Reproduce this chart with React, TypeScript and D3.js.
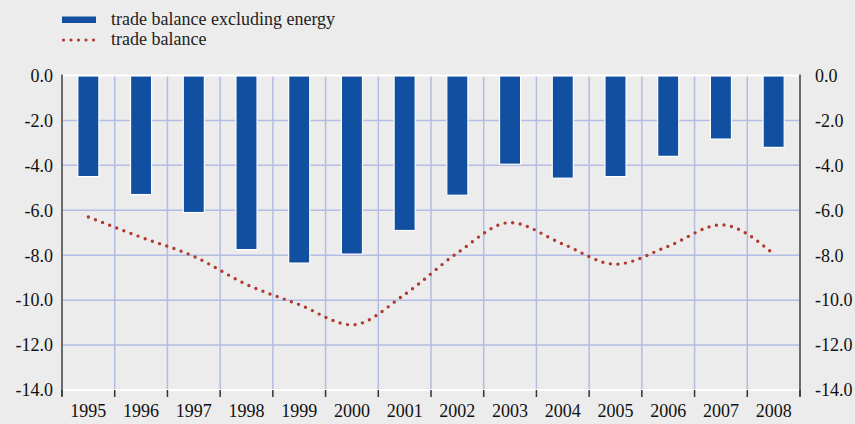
import React from "react";
import * as d3 from "d3";

const years = ["1995","1996","1997","1998","1999","2000","2001","2002","2003","2004","2005","2006","2007","2008"];
const excludingEnergy = [-4.5, -5.3, -6.1, -7.75, -8.35, -7.95, -6.9, -5.33, -3.95, -4.57, -4.5, -3.6, -2.83, -3.2];
const tradeBalance = [-6.3, -7.2, -8.05, -9.3, -10.2, -11.1, -9.75, -7.9, -6.55, -7.5, -8.4, -7.6, -6.65, -7.95];
const yTicks = [0, -2, -4, -6, -8, -10, -12, -14];
const legendLabels = ["trade balance excluding energy", "trade balance"];

const W = 855;
const H = 424;
const left = 62;
const right = 800;
const top = 75.5;
const bottom = 390;

const BLUE = "#1150a0";
const RED = "#b03a2e";
const GRID = "#b3bce4";
const AXIS = "#6b6b6b";
const FONT = "Liberation Serif, Times New Roman, serif";

export default function App() {
  const x = d3.scaleBand<string>().domain(years).range([left, right]).paddingInner(0.6).paddingOuter(0.3);
  const xb = d3.scaleBand<string>().domain(years).range([left, right]).padding(0);
  const y = d3.scaleLinear().domain([0, -14]).range([top, bottom]);

  const line = d3
    .line<number>()
    .x((_, i) => (xb(years[i]) as number) + xb.bandwidth() / 2)
    .y((d) => y(d))
    .curve(d3.curveMonotoneX);

  const boundaries = d3.range(0, years.length + 1).map((i) => left + i * xb.bandwidth());

  return (
    <svg
      width={W}
      height={H}
      style={{ position: "absolute", left: 0, top: 0, background: "#ececec", fontFamily: FONT }}
    >
      <rect x={0} y={0} width={W} height={H} fill="#ececec" />
      {/* legend */}
      <rect x={62} y={16.5} width={34} height={6.5} fill={BLUE} />
      <text x={111} y={25} fontSize={18} fill="#222">{legendLabels[0]}</text>
      <line x1={63.5} x2={96} y1={40} y2={40} stroke={RED} strokeWidth={3.2} strokeLinecap="round" strokeDasharray="0 7.5" />
      <text x={111} y={45} fontSize={18} fill="#222">{legendLabels[1]}</text>

      {/* grid */}
      {yTicks.slice(1, -1).map((t) => (
        <line key={t} x1={left} x2={right} y1={y(t)} y2={y(t)} stroke={GRID} strokeWidth={1.5} />
      ))}
      {boundaries.slice(1, -1).map((b, i) => (
        <line key={i} x1={b} x2={b} y1={top} y2={bottom} stroke={GRID} strokeWidth={1.5} />
      ))}

      {/* bars */}
      {excludingEnergy.map((v, i) => (
        <rect
          key={years[i]}
          x={x(years[i])}
          y={y(0)}
          width={x.bandwidth()}
          height={y(v) - y(0)}
          fill={BLUE}
          stroke="#ffffff"
          strokeWidth={1.2}
        />
      ))}

      {/* top and bottom frame */}
      <line x1={left} x2={right} y1={top} y2={top} stroke="#ffffff" strokeWidth={2} />
      <line x1={left} x2={right} y1={bottom} y2={bottom} stroke="#ffffff" strokeWidth={2} />

      {/* line */}
      <path
        d={line(tradeBalance) || ""}
        fill="none"
        stroke={RED}
        strokeWidth={3.4}
        strokeLinecap="round"
        strokeDasharray="0 7.6"
      />

      {/* axes */}
      <line x1={left} x2={left} y1={top - 1} y2={bottom + 6} stroke={AXIS} strokeWidth={2} />
      <line x1={right} x2={right} y1={top - 1} y2={bottom + 6} stroke={AXIS} strokeWidth={2} />
      {boundaries.map((b, i) => (
        <line key={i} x1={b} x2={b} y1={bottom} y2={bottom + 7} stroke="#333" strokeWidth={1.5} />
      ))}

      {/* y labels */}
      {yTicks.map((t) => (
        <g key={t}>
          <text x={53} y={y(t)} dy="0.35em" textAnchor="end" fontSize={18} fill="#111">
            {t.toFixed(1)}
          </text>
          <text x={815} y={y(t)} dy="0.35em" textAnchor="start" fontSize={18} fill="#111">
            {t.toFixed(1)}
          </text>
        </g>
      ))}

      {/* x labels */}
      {years.map((yr) => (
        <text
          key={yr}
          x={(xb(yr) as number) + xb.bandwidth() / 2}
          y={417}
          textAnchor="middle"
          fontSize={18}
          fill="#111"
        >
          {yr}
        </text>
      ))}
    </svg>
  );
}
